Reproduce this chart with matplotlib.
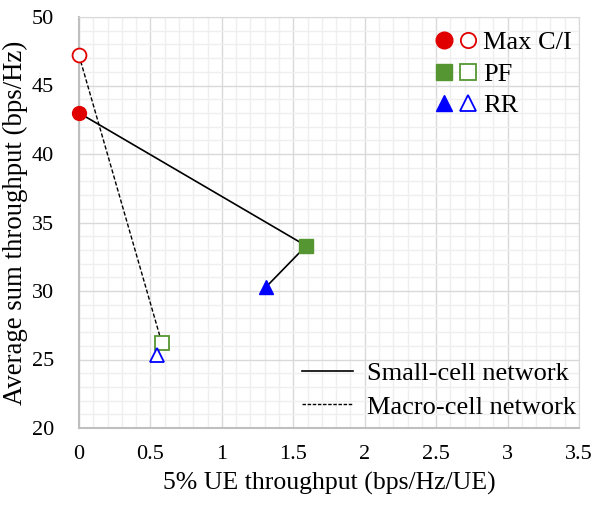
import matplotlib
matplotlib.use("Agg")
import matplotlib.pyplot as plt
from matplotlib.lines import Line2D
from matplotlib.legend_handler import HandlerTuple
from matplotlib.ticker import MultipleLocator

plt.rcParams['font.family'] = ['Liberation Serif', 'DejaVu Serif']

schemes = ["Max C/I", "PF", "RR"]
small_x = [0.0, 1.59, 1.31]
small_y = [43.0, 33.3, 30.3]
macro_x = [0.0, 0.58, 0.545]
macro_y = [47.2, 26.2, 25.3]
colors = ["#E00000", "#559632", "#0000FF"]
markers = ["o", "s", "^"]

W, H = 594, 505
fig = plt.figure(figsize=(W / 100, H / 100), dpi=100)
ax = fig.add_axes([79 / W, (H - 428) / H, 500 / W, 411 / H])

ax.plot(small_x, small_y, '-', color='black', lw=1.2, zorder=3)
ax.plot(macro_x, macro_y, '--', color='black', lw=1.0, dashes=(3, 1.5), zorder=3)

for i in range(3):
    ax.plot(small_x[i], small_y[i], marker=markers[i], color=colors[i], ms=10, ls='none',
            zorder=4, clip_on=False)
    ax.plot(macro_x[i], macro_y[i], marker=markers[i], mfc='white', mec=colors[i], mew=1.3,
            ms=10, ls='none', zorder=4, clip_on=False)

ax.set_xlim(0, 3.5)
ax.set_ylim(20, 50)
ax.xaxis.set_minor_locator(MultipleLocator(0.1))
ax.yaxis.set_major_locator(MultipleLocator(5))
ax.yaxis.set_minor_locator(MultipleLocator(1))
ax.set_xticks([0, 0.5, 1, 1.5, 2, 2.5, 3, 3.5])
ax.set_xticklabels(["0", "0.5", "1", "1.5", "2", "2.5", "3", "3.5"])
ax.grid(which='major', color='#D9D9D9', lw=1.0, zorder=0)
ax.grid(which='minor', color='#EFEFEF', lw=1.0, zorder=0)
ax.set_axisbelow(True)
ax.tick_params(which='both', length=0, labelsize=16)
ax.tick_params(axis='x', pad=12)
ax.tick_params(axis='y', pad=18)
for s in ['top', 'right']:
    ax.spines[s].set_color('#D9D9D9')
for s in ['left', 'bottom']:
    ax.spines[s].set_color('#BFBFBF')
    ax.spines[s].set_linewidth(1.5)

ax.set_xlabel("5% UE throughput (bps/Hz/UE)", fontsize=18.5, labelpad=6)
ax.set_ylabel("Average sum throughput (bps/Hz)", fontsize=19.3, labelpad=3)

handles = []
for i in range(3):
    h1 = Line2D([], [], marker=markers[i], color=colors[i], ms=12, ls='none')
    h2 = Line2D([], [], marker=markers[i], mfc='white', mec=colors[i], mew=1.3, ms=11, ls='none')
    handles.append((h1, h2))
leg1 = fig.legend(handles, schemes, handler_map={tuple: HandlerTuple(ndivide=None, pad=0.35)},
                  loc='upper left', bbox_to_anchor=(437 / W, 1 - 31 / H), frameon=False,
                  fontsize=19, handlelength=1.45, handletextpad=0.3, labelspacing=0.3,
                  borderpad=0, borderaxespad=0)

lh = [Line2D([], [], color='black', lw=1.2, ls='-'),
      Line2D([], [], color='black', lw=1.0, ls='--', dashes=(2.5, 1.2))]
fig.legend(lh, ["Small-cell network", "Macro-cell network"], loc='upper left',
           bbox_to_anchor=(302 / W, 1 - 362 / H), frameon=False,
           fontsize=19, handlelength=1.95, handletextpad=0.5, labelspacing=0.37,
           borderpad=0, borderaxespad=0)

fig.savefig("out.png", dpi=100)
